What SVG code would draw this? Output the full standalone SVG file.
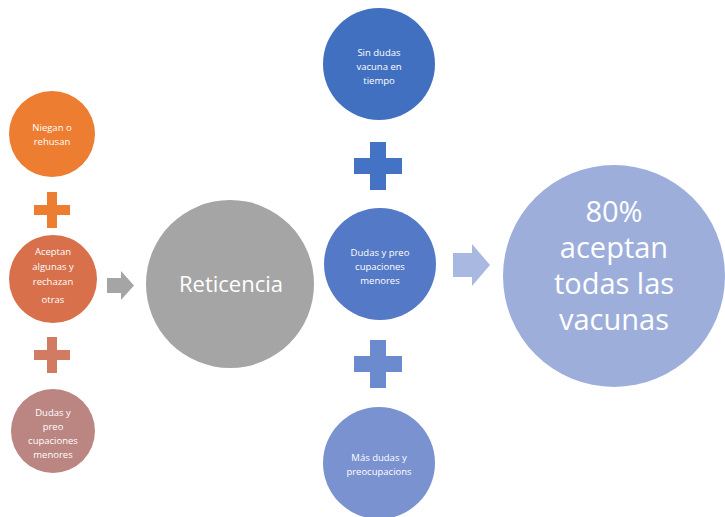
<svg xmlns="http://www.w3.org/2000/svg" width="725" height="517" viewBox="0 0 725 517">
<style>
text{font-family:"Open Sans","Liberation Sans",sans-serif;fill:#fff;text-anchor:middle}
.s{font-size:9.5px}
.m{font-size:22px}
.l{font-size:29px}
</style>
<defs>
<path id="plusS" d="M-5,-18h10v13h13v10h-13v13h-10v-13h-13v-10h13z"/>
<path id="plusL" d="M-8,-24h16v16h16v16h-16v16h-16v-16h-16v-16h16z"/>
</defs>
<rect width="725" height="517" fill="#fff"/>
<g id="connectors">
<use href="#plusS" x="52" y="210" fill="#ED7D31"/>
<use href="#plusS" x="52" y="355" fill="#D07B62"/>
<path d="M107,278h14v-7l13,14.5l-13,14.5v-7h-14z" fill="#A5A5A5"/>
<use href="#plusL" x="378" y="166" fill="#4472C4"/>
<use href="#plusL" x="378" y="364" fill="#6C8BCF"/>
<path d="M453,253h19v-9l18,21l-18,21v-9h-19z" fill="#A9B8E0"/>
</g>
<g id="n1"><circle cx="52" cy="134" r="43" fill="#ED7D31"/>
<text class="s" x="52" y="131">Niegan o</text><text class="s" x="52" y="145">rehusan</text></g>
<g id="n2"><circle cx="53" cy="279" r="44" fill="#D7704B"/>
<text class="s" x="53" y="255">Aceptan</text><text class="s" x="53" y="270">algunas y</text><text class="s" x="53" y="285">rechazan</text><text class="s" x="53" y="303">otras</text></g>
<g id="n3"><circle cx="53" cy="431" r="42" fill="#BB8581"/>
<text class="s" x="53" y="416">Dudas y</text><text class="s" x="53" y="430">preo</text><text class="s" x="53" y="444">cupaciones</text><text class="s" x="53" y="458">menores</text></g>
<g id="reticencia"><circle cx="230" cy="284" r="84" fill="#A5A5A5"/>
<text class="m" x="231" y="292">Reticencia</text></g>
<g id="b1"><circle cx="379" cy="64" r="56" fill="#4270C0"/>
<text class="s" x="379" y="56">Sin dudas</text><text class="s" x="379" y="70">vacuna en</text><text class="s" x="379" y="84">tiempo</text></g>
<g id="b2"><circle cx="380" cy="264" r="56" fill="#5479C6"/>
<text class="s" x="380" y="256">Dudas y preo</text><text class="s" x="380" y="270">cupaciones</text><text class="s" x="380" y="284">menores</text></g>
<g id="b3"><circle cx="379" cy="463" r="56" fill="#7A92D0"/>
<text class="s" x="379" y="461">Más dudas y</text><text class="s" x="379" y="475">preocupacions</text></g>
<g id="result"><circle cx="614" cy="276" r="111" fill="#9DAEDB"/>
<text class="l" x="614" y="222">80%</text><text class="l" x="614" y="258">aceptan</text><text class="l" x="614" y="294">todas las</text><text class="l" x="614" y="330">vacunas</text></g>
</svg>
